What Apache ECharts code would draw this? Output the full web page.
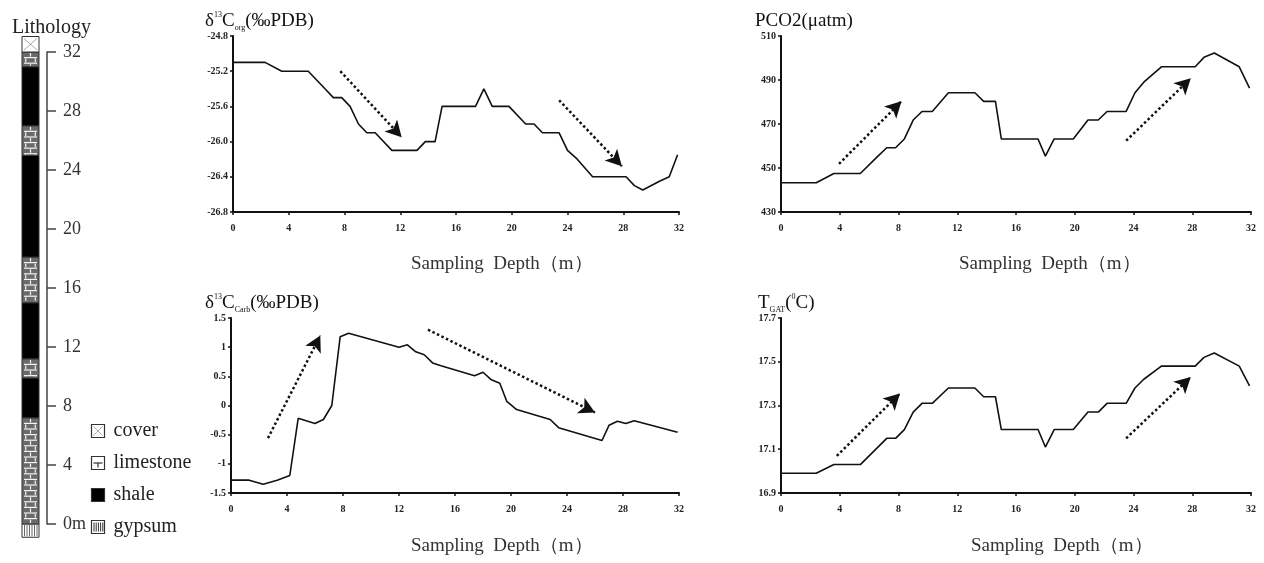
<!DOCTYPE html>
<html>
<head>
<meta charset="UTF-8">
<title>Lithology and carbon isotope profiles</title>
<script src="https://cdn.jsdelivr.net/npm/echarts@6/dist/echarts.min.js"></script>
<style>
  html, body { margin: 0; padding: 0; background: #fff; }
  #chart { width: 1264px; height: 563px; }
</style>
</head>
<body>
<div id="chart"></div>
<script>
// lithology column (depth in m)
var layerBase = [-0.9, 0, 7.2, 9.9, 11.2, 15.0, 18.1, 25.0, 27.0, 31.0, 32.0];
var layerTop = [0, 7.2, 9.9, 11.2, 15.0, 18.1, 25.0, 27.0, 31.0, 32.0, 33.05];
var layerType = ['gypsum', 'limestone', 'shale', 'limestone', 'shale', 'limestone', 'shale', 'limestone', 'shale', 'limestone', 'cover'];
var legendNames = ['cover', 'limestone', 'shale', 'gypsum'];

// delta13C org
var depthOrg = [0, 2.3, 3.5, 5.4, 6.6, 7.2, 7.8, 8.4, 9.0, 9.6, 10.2, 11.4, 13.2, 13.8, 14.5, 15.0, 17.4, 18.0, 18.6, 19.8, 21.0, 21.6, 22.2, 23.4, 24.0, 24.7, 25.8, 28.2, 28.8, 29.4, 30.6, 31.3, 31.9];
var valOrg = [-25.1, -25.1, -25.2, -25.2, -25.4, -25.5, -25.5, -25.6, -25.8, -25.9, -25.9, -26.1, -26.1, -26.0, -26.0, -25.6, -25.6, -25.4, -25.6, -25.6, -25.8, -25.8, -25.9, -25.9, -26.1, -26.2, -26.4, -26.4, -26.5, -26.55, -26.45, -26.4, -26.15];

// delta13C carb
var depthCarb = [0, 1.3, 2.3, 3.3, 4.2, 4.8, 6.0, 6.6, 7.2, 7.8, 8.4, 12.0, 12.6, 13.2, 13.8, 14.4, 15.0, 17.4, 18.0, 18.6, 19.2, 19.7, 20.4, 22.8, 23.4, 26.5, 27.0, 27.6, 28.2, 28.8, 31.9];
var valCarb = [-1.28, -1.28, -1.35, -1.28, -1.2, -0.22, -0.31, -0.24, 0.0, 1.18, 1.24, 1.0, 1.04, 0.92, 0.87, 0.73, 0.68, 0.51, 0.57, 0.44, 0.38, 0.07, -0.07, -0.24, -0.38, -0.6, -0.34, -0.27, -0.31, -0.26, -0.46];

// PCO2 and T_GAT share the sample depths
var depthCO2 = [0, 2.4, 3.6, 5.4, 6.6, 7.2, 7.8, 8.4, 9.0, 9.6, 10.3, 11.4, 13.2, 13.8, 14.6, 15.0, 17.5, 18.0, 18.6, 19.9, 20.9, 21.6, 22.2, 23.5, 24.1, 24.7, 25.9, 28.2, 28.8, 29.5, 31.2, 31.9];
var valCO2 = [443.3, 443.3, 447.5, 447.5, 455.4, 459.2, 459.2, 463.2, 471.8, 475.7, 475.7, 484.2, 484.2, 480.3, 480.3, 463.2, 463.2, 455.4, 463.2, 463.2, 471.8, 471.8, 475.7, 475.7, 484.2, 489, 496.0, 496.0, 500.3, 502.3, 496.0, 486.3];
var valT = [16.99, 16.99, 17.03, 17.03, 17.11, 17.15, 17.15, 17.19, 17.27, 17.31, 17.31, 17.38, 17.38, 17.34, 17.34, 17.19, 17.19, 17.11, 17.19, 17.19, 17.27, 17.27, 17.31, 17.31, 17.38, 17.42, 17.48, 17.48, 17.52, 17.54, 17.48, 17.39];

// tick labels
var ticksOrg = [-26.8, -26.4, -26.0, -25.6, -25.2, -24.8];
var ticksCarb = [-1.5, -1, -0.5, 0, 0.5, 1, 1.5];
var ticksCO2 = [430, 450, 470, 490, 510];
var ticksT = [16.9, 17.1, 17.3, 17.5, 17.7];

// trend arrows [from, to]
var arrowsOrg = [[[7.7, -25.2], [12.1, -25.95]], [[23.4, -25.53], [27.9, -26.28]]];
var arrowsCarb = [[[2.64, -0.56], [6.38, 1.2]], [[14.07, 1.3], [26.0, -0.12]]];
var arrowsCO2 = [[[3.95, 451.9], [8.2, 480.3]], [[23.5, 462.4], [27.9, 490.8]]];
var arrowsT = [[[3.8, 17.07], [8.1, 17.355]], [[23.5, 17.15], [27.9, 17.43]]];

var SERIF = "'Liberation Serif', 'Noto Serif', serif";
var INK = '#111';

function zip(a, b) {
  return a.map(function (v, i) { return [v, b[i]]; });
}

function xAx(grid) {
  return {
    type: 'value', gridIndex: grid, min: 0, max: 32, interval: 4,
    axisLine: { onZero: false, lineStyle: { color: INK, width: 2 } },
    axisTick: { length: 3, lineStyle: { color: INK, width: 1.5 } },
    axisLabel: { color: '#222', fontFamily: SERIF, fontWeight: 'bold', fontSize: 10, margin: 11 },
    splitLine: { show: false }
  };
}

function yAx(grid, ticks, digits) {
  return {
    type: 'value', gridIndex: grid, min: ticks[0], max: ticks[ticks.length - 1],
    axisLine: { show: true, onZero: false, lineStyle: { color: INK, width: 2 } },
    axisTick: { show: true, length: 3, customValues: ticks, lineStyle: { color: INK, width: 1.5 } },
    axisLabel: {
      customValues: ticks, color: '#222', fontFamily: SERIF, fontWeight: 'bold', fontSize: 10, margin: 5,
      formatter: function (v) { return digits ? v.toFixed(digits) : String(v); }
    },
    splitLine: { show: false }
  };
}

function lineSeries(idx, xs, ys, arrows) {
  return {
    type: 'line', xAxisIndex: idx, yAxisIndex: idx,
    data: zip(xs, ys), symbol: 'none', animation: false,
    lineStyle: { color: INK, width: 1.6 },
    markLine: {
      silent: true, animation: false,
      symbol: ['none', 'arrow'], symbolSize: [13, 16],
      label: { show: false },
      lineStyle: { color: INK, type: 'dotted', width: 2.5 },
      data: arrows.map(function (a) { return [{ coord: a[0] }, { coord: a[1] }]; })
    }
  };
}

function drawLayer(params, api) {
  var type = layerType[params.dataIndex];
  var p0 = api.coord([0, api.value(1)]);
  var p1 = api.coord([1, api.value(0)]);
  var x = p0[0], y = p0[1], w = p1[0] - p0[0], h = p1[1] - p0[1];
  var kids = [];
  var fill = type === 'shale' ? '#000' : (type === 'limestone' ? '#6a6a6a' : '#fff');
  kids.push({ type: 'rect', shape: { x: x, y: y, width: w, height: h }, style: { fill: fill, stroke: '#333', lineWidth: 1 } });
  var white = { stroke: '#f4f4f4', lineWidth: 1.2 };
  if (type === 'limestone') {
    var row = 5.6, r = 0;
    for (var yy = y; yy < y + h - 1; yy += row, r++) {
      var yb = Math.min(yy + row, y + h);
      if (yy > y + 0.5) kids.push({ type: 'line', shape: { x1: x + 2, y1: yy, x2: x + w - 2, y2: yy }, style: white });
      var xs = r % 2 === 0 ? [x + w / 2] : [x + w * 0.22, x + w * 0.78];
      xs.forEach(function (vx) {
        kids.push({ type: 'line', shape: { x1: vx, y1: yy + 1, x2: vx, y2: yb - 1 }, style: white });
      });
    }
  } else if (type === 'gypsum') {
    for (var gx = x + 2.5; gx < x + w - 1; gx += 2.5) {
      kids.push({ type: 'line', shape: { x1: gx, y1: y + 1, x2: gx, y2: y + h - 1 }, style: { stroke: '#666', lineWidth: 1 } });
    }
  } else if (type === 'cover') {
    kids.push({ type: 'line', shape: { x1: x + 2, y1: y + 2, x2: x + w - 2, y2: y + h - 2 }, style: { stroke: '#aaa', lineWidth: 1 } });
    kids.push({ type: 'line', shape: { x1: x + w - 2, y1: y + 2, x2: x + 2, y2: y + h - 2 }, style: { stroke: '#aaa', lineWidth: 1 } });
  }
  return { type: 'group', children: kids };
}

// legend icons (decoration only)
function legendIcon(name, cx, cy) {
  var s = 13, x = cx - s / 2, y = cy - s / 2;
  var kids = [];
  var fill = name === 'shale' ? '#000' : '#fff';
  kids.push({ type: 'rect', shape: { x: x, y: y, width: s, height: s }, style: { fill: fill, stroke: '#333', lineWidth: 1.2 } });
  if (name === 'cover') {
    kids.push({ type: 'line', shape: { x1: x + 2, y1: y + 2, x2: x + s - 2, y2: y + s - 2 }, style: { stroke: '#aaa' } });
    kids.push({ type: 'line', shape: { x1: x + s - 2, y1: y + 2, x2: x + 2, y2: y + s - 2 }, style: { stroke: '#aaa' } });
  } else if (name === 'limestone') {
    kids.push({ type: 'line', shape: { x1: x + 2, y1: y + s / 2, x2: x + s - 2, y2: y + s / 2 }, style: { stroke: '#333', lineWidth: 1.2 } });
    kids.push({ type: 'line', shape: { x1: x + s / 2, y1: y + s / 2, x2: x + s / 2, y2: y + s - 2 }, style: { stroke: '#333', lineWidth: 1.2 } });
  } else if (name === 'gypsum') {
    for (var gx = x + 2.5; gx < x + s - 1; gx += 2.2) {
      kids.push({ type: 'line', shape: { x1: gx, y1: y + 2, x2: gx, y2: y + s - 2 }, style: { stroke: '#333', lineWidth: 1 } });
    }
  }
  kids.push({ type: 'text', style: { text: name, x: x + s + 9, y: cy, verticalAlign: 'middle', fill: '#222', font: '20px ' + SERIF } });
  return { type: 'group', children: kids };
}

var legendY = [431, 463, 495, 527];

var rich = {
  sup: { fontSize: 8, verticalAlign: 'top', fontFamily: SERIF, color: '#111' },
  sub: { fontSize: 8, verticalAlign: 'bottom', fontFamily: SERIF, color: '#111' }
};
var titleText = { fontFamily: SERIF, fontSize: 19, fontWeight: 'normal', color: '#111', lineHeight: 21, rich: rich };
var nameText = { fontFamily: SERIF, fontSize: 19, fontWeight: 'normal', color: '#333' };

var chart = echarts.init(document.getElementById('chart'), null, { renderer: 'canvas' });

chart.setOption({
  backgroundColor: '#fff',
  animation: false,
  title: [
    { text: 'Lithology', left: 7, top: 13, textStyle: { fontFamily: SERIF, fontSize: 20, fontWeight: 'normal', color: '#222' } },
    { text: 'δ{sup|13}C{sub|org}(‰PDB)', left: 200, top: 6, textStyle: titleText },
    { text: 'δ{sup|13}C{sub|Carb}(‰PDB)', left: 200, top: 288, textStyle: titleText },
    { text: 'PCO2(μatm)', left: 750, top: 6, textStyle: titleText },
    { text: 'T{sub|GAT}({sup|0}C)', left: 753, top: 288, textStyle: titleText },
    { text: 'Sampling  Depth（m）', left: 406, top: 250, textStyle: nameText },
    { text: 'Sampling  Depth（m）', left: 406, top: 532, textStyle: nameText },
    { text: 'Sampling  Depth（m）', left: 954, top: 250, textStyle: nameText },
    { text: 'Sampling  Depth（m）', left: 966, top: 532, textStyle: nameText }
  ],
  grid: [
    { left: 22, top: 52, width: 17, bottom: 39 },
    { left: 233, top: 36, right: 585, bottom: 351 },
    { left: 231, top: 318, right: 585, bottom: 70 },
    { left: 781, top: 36, right: 13, bottom: 351 },
    { left: 781, top: 318, right: 13, bottom: 70 }
  ],
  xAxis: [
    { type: 'value', gridIndex: 0, min: 0, max: 1, show: false },
    xAx(1), xAx(2), xAx(3), xAx(4)
  ],
  yAxis: [
    {
      type: 'value', gridIndex: 0, min: 0, max: 32, interval: 4, position: 'right', offset: 8,
      axisLine: { show: true, onZero: false, lineStyle: { color: '#444', width: 1.5 } },
      axisTick: { show: true, length: 9, lineStyle: { color: '#444', width: 1.5 } },
      axisLabel: {
        color: '#333', fontFamily: SERIF, fontSize: 18, margin: 16,
        formatter: function (v) { return v === 0 ? '0m' : String(v); }
      },
      splitLine: { show: false }
    },
    yAx(1, ticksOrg, 1), yAx(2, ticksCarb, 0), yAx(3, ticksCO2, 0), yAx(4, ticksT, 1)
  ],
  graphic: legendNames.map(function (n, i) { return legendIcon(n, 98, legendY[i]); }),
  series: [
    {
      type: 'custom', xAxisIndex: 0, yAxisIndex: 0, clip: false, silent: true,
      renderItem: drawLayer,
      encode: { y: [0, 1] },
      data: layerBase.map(function (b, i) { return [b, layerTop[i]]; })
    },
    lineSeries(1, depthOrg, valOrg, arrowsOrg),
    lineSeries(2, depthCarb, valCarb, arrowsCarb),
    lineSeries(3, depthCO2, valCO2, arrowsCO2),
    lineSeries(4, depthCO2, valT, arrowsT)
  ]
});
</script>
</body>
</html>
